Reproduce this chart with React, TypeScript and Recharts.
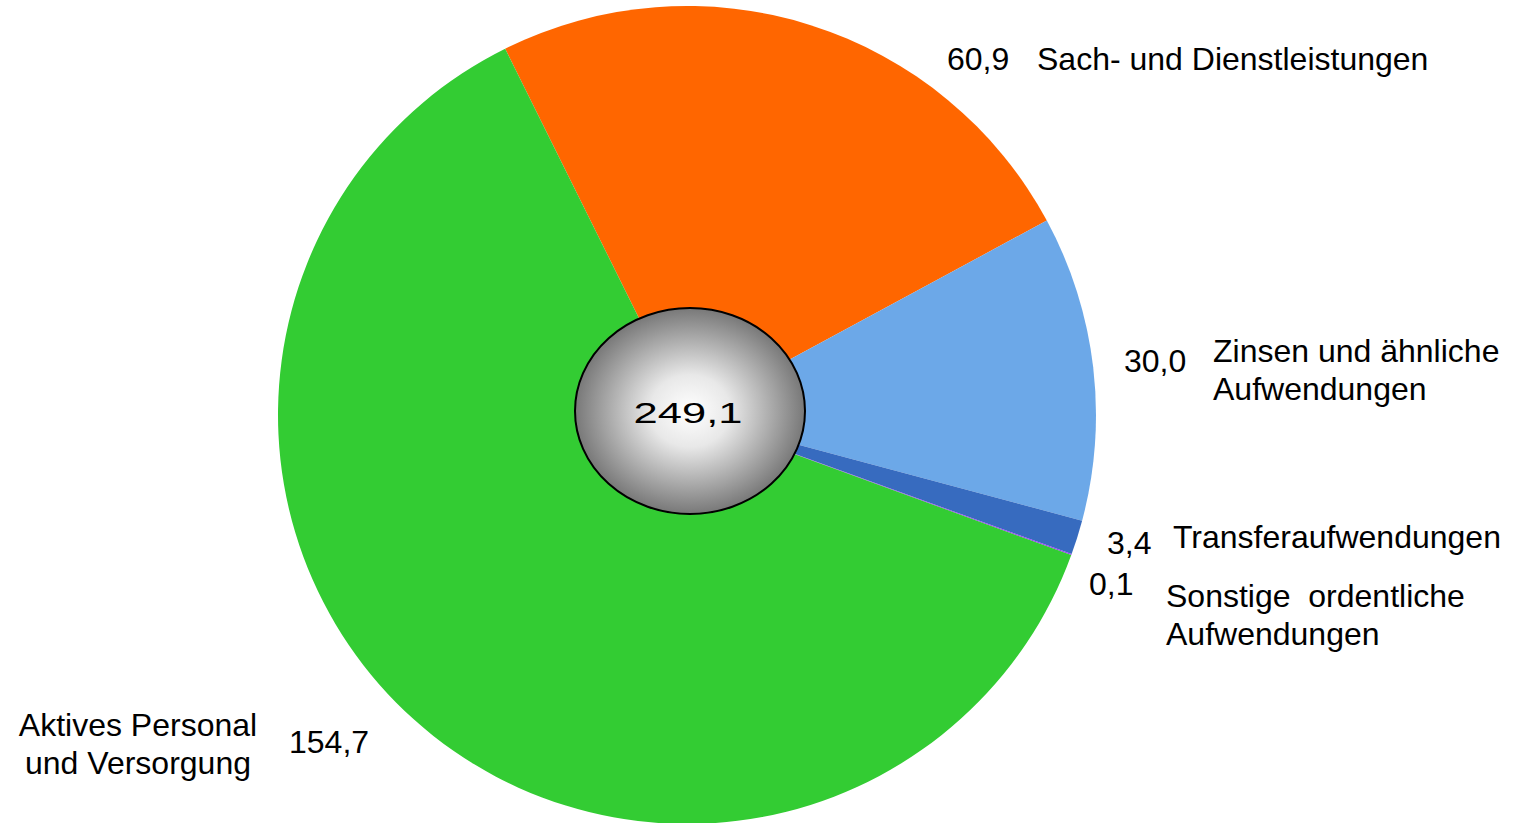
import React from 'react';
import { PieChart, Pie, Cell } from 'recharts';

// Aufwendungen in Mio. EUR
const categories = [
  'Sach- und Dienstleistungen',
  'Zinsen und ähnliche Aufwendungen',
  'Transferaufwendungen',
  'Sonstige ordentliche Aufwendungen',
  'Aktives Personal und Versorgung',
];
const values = [60.9, 30.0, 3.4, 0.1, 154.7];
const valueLabels = ['60,9', '30,0', '3,4', '0,1', '154,7'];
const nameLines = [
  ['Sach- und Dienstleistungen'],
  ['Zinsen und ähnliche', 'Aufwendungen'],
  ['Transferaufwendungen'],
  ['Sonstige  ordentliche', 'Aufwendungen'],
  ['Aktives Personal', 'und Versorgung'],
];
const totalLabel = '249,1';

const COLORS = ['#FF6600', '#6CA8E8', '#376BBF', '#9933FF', '#33CC33'];

const W = 1514;
const H = 823;
const MARGIN = 5; // PieChart default margin, cx/cy are measured from it
const CX = 687 - MARGIN;
const CY = 415 - MARGIN;
const R = 409;
const FONT = '"Liberation Sans", Arial, sans-serif';
const FS = 32;

// label placement relative to the pie centre
const labelLayout = [
  { vx: 260, vy: -345, nx: 350, ny: -345, anchor: 'start' },
  { vx: 437, vy: -43, nx: 526, ny: -53, anchor: 'start' },
  { vx: 420, vy: 139, nx: 486, ny: 133, anchor: 'start' },
  { vx: 402, vy: 180, nx: 479, ny: 192, anchor: 'start' },
  { vx: -398, vy: 338, nx: -549, ny: 321, anchor: 'middle' },
];

const chartData = categories.map((name, i) => ({ name, value: values[i] }));

function renderLabel(props: any) {
  const { cx, cy, index } = props;
  const l = labelLayout[index];
  return (
    <g key={`lbl-${index}`}>
      <text x={cx + l.vx} y={cy + l.vy} fontSize={FS} fontFamily={FONT} fill="#000">
        {valueLabels[index]}
      </text>
      <text
        x={cx + l.nx}
        y={cy + l.ny}
        fontSize={FS}
        fontFamily={FONT}
        fill="#000"
        textAnchor={l.anchor}
        style={{ whiteSpace: 'pre' }}
      >
        {nameLines[index].map((line, j) => (
          <tspan key={j} x={cx + l.nx} dy={j === 0 ? 0 : 38}>
            {line}
          </tspan>
        ))}
      </text>
    </g>
  );
}

function CenterBadge() {
  return (
    <svg
      width={W}
      height={H}
      style={{ position: 'absolute', left: 0, top: 0, pointerEvents: 'none' }}
    >
      <defs>
        <radialGradient id="badge" cx="50%" cy="50%" r="50%">
          <stop offset="0%" stopColor="#FFFFFF" />
          <stop offset="35%" stopColor="#E8E8E8" />
          <stop offset="100%" stopColor="#787878" />
        </radialGradient>
      </defs>
      <ellipse cx={690} cy={411} rx={115} ry={103} fill="url(#badge)" stroke="#000" strokeWidth={2} />
      <text
        x={0}
        y={0}
        fontSize={30}
        fontFamily={FONT}
        fill="#000"
        textAnchor="middle"
        transform="translate(688 423) scale(1.45 1)"
      >
        {totalLabel}
      </text>
    </svg>
  );
}

export default function App() {
  return (
    <div style={{ position: 'absolute', left: 0, top: 0, width: W, height: H, background: '#fff' }}>
      <PieChart width={W} height={H}>
        <Pie
          data={chartData}
          dataKey="value"
          nameKey="name"
          cx={CX}
          cy={CY}
          outerRadius={R}
          startAngle={116.4}
          endAngle={-243.6}
          labelLine={false}
          label={renderLabel}
          isAnimationActive={false}
          stroke="none"
        >
          {chartData.map((entry, index) => (
            <Cell key={`cell-${index}`} fill={COLORS[index]} stroke="none" />
          ))}
        </Pie>
      </PieChart>
      <CenterBadge />
    </div>
  );
}
